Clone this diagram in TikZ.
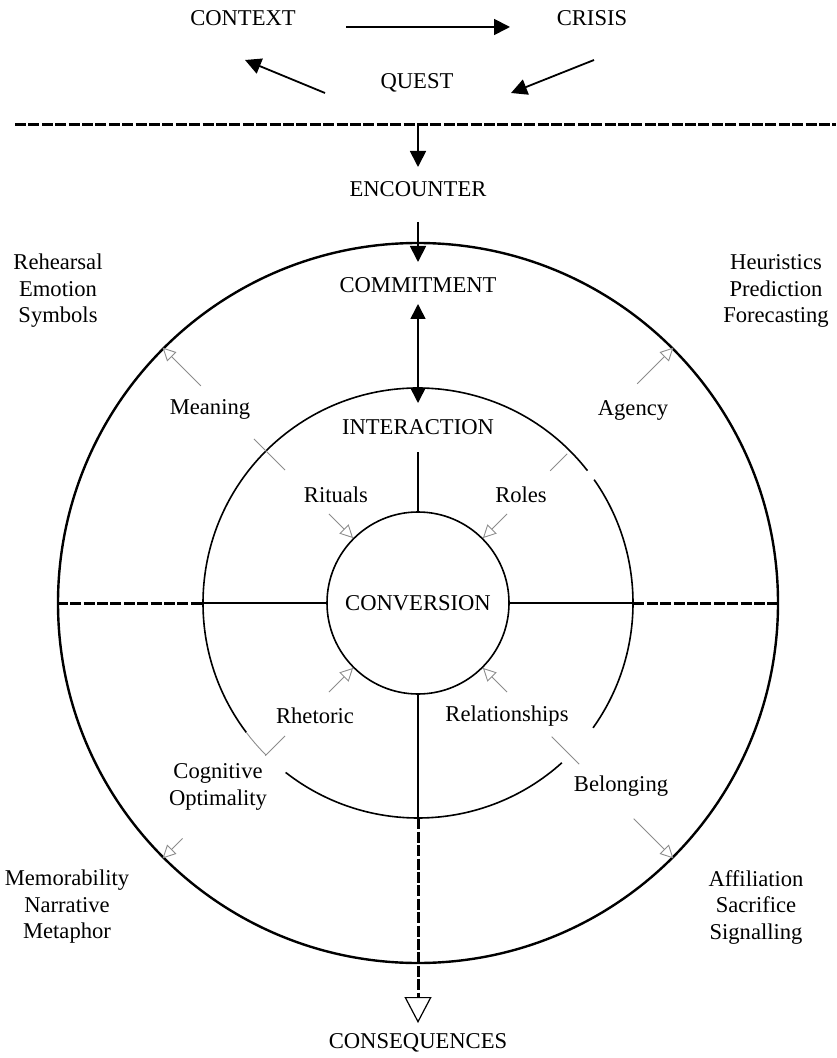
\documentclass[tikz,border=0pt]{standalone}
\usepackage{fontspec}
\setmainfont{Liberation Serif}
\usetikzlibrary{arrows.meta,shapes,positioning,calc}

\tikzset{
  lbl/.style={font=\fontsize{11.3}{13.25}\selectfont, inner sep=2pt, align=center},
  blk/.style={line width=0.9pt, -{Triangle[length=8pt,width=8pt]}},
  dblblk/.style={line width=0.8pt, {Triangle[length=7.5pt,width=7.5pt]}-{Triangle[length=7.5pt,width=7.5pt]}},
  heavydash/.style={line width=1.5pt, dash pattern=on 5.5pt off 1.2pt},
  grayarrow/.style={draw=black!45, line width=0.45pt, -{Triangle[open,length=6.5pt,width=6.5pt]}},
  graytick/.style={draw=black!45, line width=0.45pt},
}

\begin{document}
\begin{tikzpicture}[x=0.5pt, y=-0.5pt]

    \useasboundingbox (0,0) rectangle (836,1058);

    % ---------------- Top ----------------
    \node[lbl] (ctx) at (243,18) {CONTEXT};
    \node[lbl] (cri) at (592,18) {CRISIS};
    \node[lbl] (qst) at (417,83) {QUEST};
    \draw[blk] ($(ctx)+(103,9)$) -- ($(cri)+(-82,9)$);
    \draw[blk] ($(qst)+(-92,10)$) -- ($(ctx)+(2,42)$);
    \draw[blk] ($(cri)+(2,42)$) -- ($(qst)+(94,10)$);

    \draw[heavydash] (15,125) -- (836,125);
    \coordinate (div) at (418,125);

    \node[lbl] (enc) at (418,189) {ENCOUNTER};
    \draw[blk] (div) -- ($(enc)+(0,-22)$);

    % ---------------- Circles ----------------
    \coordinate (c) at (418,603);
    \node[circle, draw, line width=1.2pt, minimum size=360pt, inner sep=0pt] (outer) at (c) {};
    \node[circle, minimum size=215pt, inner sep=0pt] (mid) at (c) {};
    \draw[line width=0.8pt] ($(c)+(38:107.5pt)$) arc[start angle=38, end angle=217, radius=107.5pt];
    \draw[line width=0.8pt] ($(c)+(232:107.5pt)$) arc[start angle=232, end angle=312, radius=107.5pt];
    \draw[line width=0.8pt] ($(c)+(324.5:107.5pt)$) arc[start angle=324.5, end angle=395, radius=107.5pt];
    \draw[graytick] ($(c)+(217:107.5pt)$) arc[start angle=217, end angle=225, radius=107.5pt];
    \node[lbl, circle, draw, line width=0.8pt, minimum size=91pt, inner sep=0pt] (conv) at (c) {CONVERSION};

    \node[lbl] (com) at (418,285) {COMMITMENT};
    \node[lbl] (int) at (418,427) {INTERACTION};
    \draw[blk] ($(enc)+(0,33)$) -- ($(com)+(0,-23)$);
    \draw[dblblk] ($(com)+(0,19)$) -- ($(int)+(0,-24)$);
    \draw[line width=0.8pt] ($(int)+(0,25)$) -- (conv.north);

    % ---------------- Cross lines ----------------
    \draw[line width=0.8pt] (mid.west) -- (conv.west);
    \draw[line width=0.8pt] (conv.east) -- (mid.east);
    \draw[line width=0.8pt] (conv.south) -- (mid.south);
    \draw[heavydash] (outer.west) -- (mid.west);
    \draw[heavydash] (mid.east) -- (outer.east);

    \node[lbl] (csq) at (418,1043) {CONSEQUENCES};
    \draw[heavydash, -{Triangle[open,length=13pt,width=13.5pt,line width=0.6pt]}]
        (mid.south) -- ($(csq)+(0,-20)$);

    % ---------------- Outer arrows ----------------
    \foreach \ang/\ra/\rb/\rc in {135/94/116/153.5, 45/93.5/105.5/155,
                                  225/94/108/166.5, 315/94.5/114/152.5} {
        \draw[graytick] ($(c)+(\ang:\ra pt)$) -- ($(c)+(\ang:\rb pt)$);
        \draw[grayarrow] ($(c)+(\ang:\rc pt)$) -- (outer.\ang);
    }
    \node[lbl] (mea) at (210,409) {Meaning};
    \node[lbl] (age) at (633,410) {Agency};
    \node[lbl] (cog) at (218,787) {Cognitive\\Optimality};
    \node[lbl] (bel) at (621,786) {Belonging};

    % ---------------- Inner arrows ----------------
    \foreach \ang in {45,135,225,315} {
        \draw[grayarrow] ($(c)+(\ang:63pt)$) -- (conv.\ang);
    }
    \node[lbl] (rit) at (336,495) {Rituals};
    \node[lbl] (rol) at (521,495) {Roles};
    \node[lbl] (rhe) at (315,716) {Rhetoric};
    \node[lbl] (rel) at (507,716) {Relationships};

    % ---------------- Corners ----------------
    \node[lbl] (rehe) at (58,291) {Rehearsal\\Emotion\\Symbols};
    \node[lbl] (heur) at (776,291) {Heuristics\\Prediction\\Forecasting};
    \node[lbl] (memo) at (67,907) {Memorability\\Narrative\\Metaphor};
    \node[lbl] (affi) at (756,907) {Affiliation\\Sacrifice\\Signalling};

\end{tikzpicture}
\end{document}
